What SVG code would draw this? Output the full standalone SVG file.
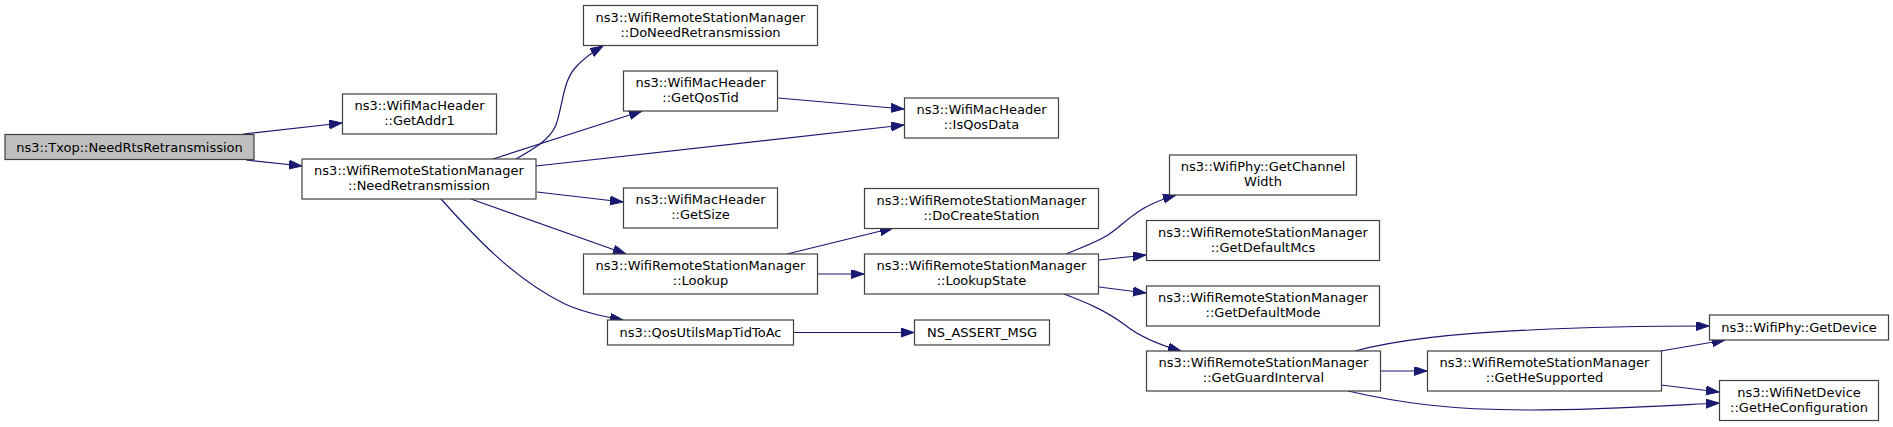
<svg xmlns="http://www.w3.org/2000/svg" width="1893" height="427" viewBox="0 0 1893 427">
<style>
.n rect{fill:#ffffff;stroke:#404040;stroke-width:1.2}
.n.root rect{fill:#bfbfbf}
.n text{font-family:"DejaVu Sans","Liberation Sans",sans-serif;font-size:13px;fill:#000;text-anchor:middle}
.e path{fill:none;stroke:#191970;stroke-width:1.2;marker-end:url(#ah)}
</style>
<defs>
<marker id="ah" markerUnits="userSpaceOnUse" markerWidth="14" markerHeight="10" refX="13" refY="4.5" orient="auto">
<path d="M0,0 L13,4.5 L0,9 z" fill="#191970" stroke="#191970" stroke-width="1"/>
</marker>
</defs>
<rect width="1893" height="427" fill="#ffffff"/>
<g id="edges" class="e">
<path d="M243,134 L342,123"/>
<path d="M246,160 L302,166"/>
<path d="M516,159 C532,150 550,140 556,125 C563,104 563,82 575,68 C581,61 591,53 603,46"/>
<path d="M493,159 L642,111"/>
<path d="M536,166 L904,125"/>
<path d="M778,98 L904,109"/>
<path d="M537,192 L623,202"/>
<path d="M471,199 L626,254"/>
<path d="M441,199 C468,229 511,278 565,304 C580,311 600,316 623,320"/>
<path d="M787,254 L893,228"/>
<path d="M817,274 L864,274"/>
<path d="M793,332.5 L914,332.5"/>
<path d="M1066,254 C1080,248 1095,243 1108,235 C1122,226 1132,213 1150,205 C1158,201 1166,198 1176,195"/>
<path d="M1099,260 L1146,255"/>
<path d="M1099,287 L1146,293"/>
<path d="M1064,294 C1085,302 1105,310 1125,325 C1140,337 1160,345 1181,351"/>
<path d="M1380,371 L1427,371"/>
<path d="M1355,351 C1400,339 1460,333 1530,330 C1590,327 1650,326 1709,326"/>
<path d="M1661,351 L1725,340"/>
<path d="M1661,385 L1719,392"/>
<path d="M1348,391 C1400,403 1450,410 1530,410 C1600,410 1660,406 1719,403"/>
</g>
<g id="n_txop" class="n root"><rect x="5" y="134.5" width="249" height="25"/><text x="129.5" y="151.5">ns3::Txop::NeedRtsRetransmission</text></g>
<g id="n_getaddr1" class="n"><rect x="342.5" y="94" width="154" height="40"/><text x="419.5" y="110">ns3::WifiMacHeader</text><text x="419.5" y="125">::GetAddr1</text></g>
<g id="n_needretrans" class="n"><rect x="302" y="159" width="234" height="40"/><text x="419" y="175">ns3::WifiRemoteStationManager</text><text x="419" y="190">::NeedRetransmission</text></g>
<g id="n_doneedretrans" class="n"><rect x="583.5" y="5.5" width="234" height="40"/><text x="700.5" y="21.5">ns3::WifiRemoteStationManager</text><text x="700.5" y="36.5">::DoNeedRetransmission</text></g>
<g id="n_getqostid" class="n"><rect x="623.5" y="71" width="154" height="40"/><text x="700.5" y="87">ns3::WifiMacHeader</text><text x="700.5" y="102">::GetQosTid</text></g>
<g id="n_isqosdata" class="n"><rect x="904.5" y="98" width="154" height="40"/><text x="981.5" y="114">ns3::WifiMacHeader</text><text x="981.5" y="129">::IsQosData</text></g>
<g id="n_getsize" class="n"><rect x="623.5" y="188" width="154" height="40"/><text x="700.5" y="204">ns3::WifiMacHeader</text><text x="700.5" y="219">::GetSize</text></g>
<g id="n_lookup" class="n"><rect x="583.5" y="254" width="234" height="40"/><text x="700.5" y="270">ns3::WifiRemoteStationManager</text><text x="700.5" y="285">::Lookup</text></g>
<g id="n_qosutils" class="n"><rect x="607.5" y="320" width="186" height="25"/><text x="700.5" y="337">ns3::QosUtilsMapTidToAc</text></g>
<g id="n_docreatestation" class="n"><rect x="864.5" y="188.5" width="234" height="40"/><text x="981.5" y="204.5">ns3::WifiRemoteStationManager</text><text x="981.5" y="219.5">::DoCreateStation</text></g>
<g id="n_lookupstate" class="n"><rect x="864.5" y="254" width="234" height="40"/><text x="981.5" y="270">ns3::WifiRemoteStationManager</text><text x="981.5" y="285">::LookupState</text></g>
<g id="n_nsassert" class="n"><rect x="914.5" y="320" width="135" height="25"/><text x="982" y="337">NS_ASSERT_MSG</text></g>
<g id="n_getchannelwidth" class="n"><rect x="1169.5" y="155" width="187" height="40"/><text x="1263" y="171">ns3::WifiPhy::GetChannel</text><text x="1263" y="186">Width</text></g>
<g id="n_getdefaultmcs" class="n"><rect x="1146.5" y="220.5" width="233" height="40"/><text x="1263" y="236.5">ns3::WifiRemoteStationManager</text><text x="1263" y="251.5">::GetDefaultMcs</text></g>
<g id="n_getdefaultmode" class="n"><rect x="1146.5" y="286" width="233" height="40"/><text x="1263" y="302">ns3::WifiRemoteStationManager</text><text x="1263" y="317">::GetDefaultMode</text></g>
<g id="n_getguardinterval" class="n"><rect x="1146.5" y="351" width="234" height="40"/><text x="1263.5" y="367">ns3::WifiRemoteStationManager</text><text x="1263.5" y="382">::GetGuardInterval</text></g>
<g id="n_gethesupported" class="n"><rect x="1427.5" y="351" width="234" height="40"/><text x="1544.5" y="367">ns3::WifiRemoteStationManager</text><text x="1544.5" y="382">::GetHeSupported</text></g>
<g id="n_getdevice" class="n"><rect x="1709.5" y="315" width="179" height="25"/><text x="1799" y="332">ns3::WifiPhy::GetDevice</text></g>
<g id="n_gethecfg" class="n"><rect x="1719.5" y="380.5" width="159" height="40"/><text x="1799" y="396.5">ns3::WifiNetDevice</text><text x="1799" y="411.5">::GetHeConfiguration</text></g>
</svg>
